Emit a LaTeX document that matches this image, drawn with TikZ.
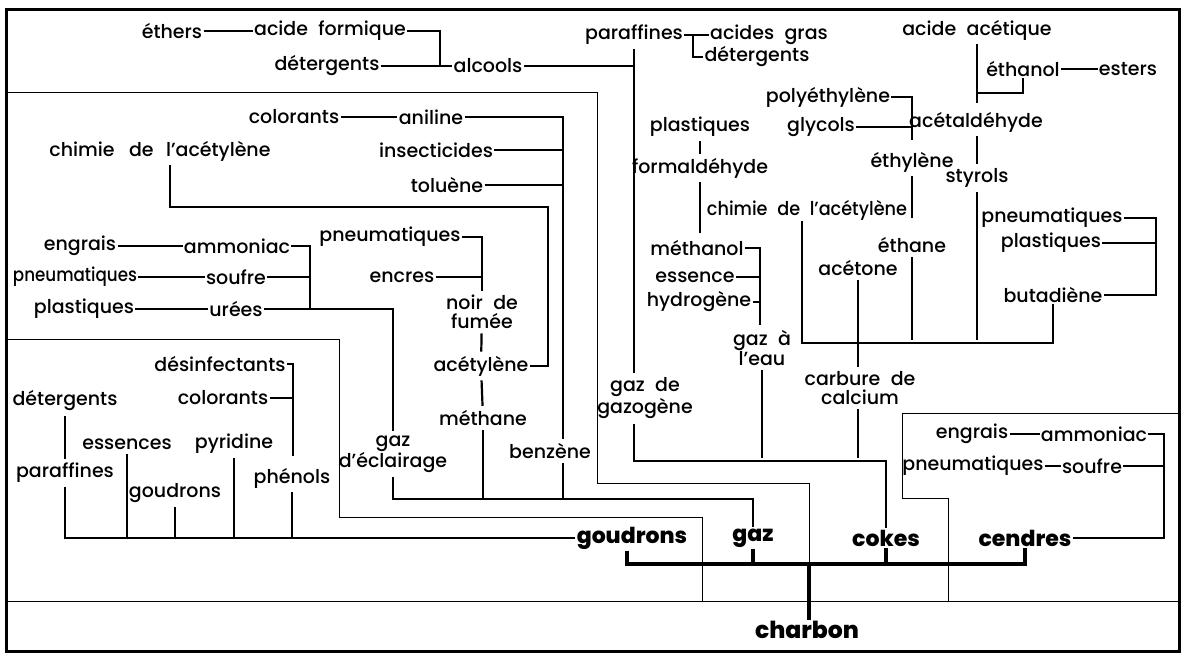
\documentclass[tikz,border=0pt]{standalone}
\usepackage{fontspec}
\setmainfont{Poppins}
\IfFontExistsTF{Poppins Medium}
  {\newfontfamily\lblfam{Poppins Medium}[WordSpace=2.1]}
  {\newfontfamily\lblfam{Poppins}[WordSpace=2.1]}
\IfFontExistsTF{Poppins ExtraBold}
  {\newfontfamily\bigfam{Poppins ExtraBold}}
  {\newfontfamily\bigfam{Poppins}[UprightFont=*-Bold]}
\begin{document}
\begin{tikzpicture}[x=1pt,y=-1pt,
  lbl/.style={inner sep=1.2pt, font={\lblfam\fontsize{19}{19}\selectfont}, align=center},
  big/.style={inner sep=1.2pt, font={\bigfam\fontsize{22}{22}\selectfont}},
  con/.style={line width=2.2pt},
  vcon/.style={line width=2.2pt, shorten <=3pt, shorten >=3pt},
  bus/.style={line width=4pt},
  reg/.style={line width=0.8pt},
]
\useasboundingbox (0,0) rectangle (1184,656);
% frame and regions
\draw[line width=3pt] (6,9) rectangle (1179,651);
\draw[reg] (7,92) -- (597,92) -- (597,483) -- (809,483) -- (809,601);
\draw[reg] (7,339) -- (339,339) -- (339,517) -- (702,517) -- (702,601);
\draw[reg] (1178,413) -- (902,413) -- (902,498) -- (948,498) -- (948,601);
\draw[reg] (7,601) -- (1178,601);

% ---- nodes: top area
\node[lbl] (eth) at (172,31) {éthers};
\node[lbl] (acf) at (330,31) {acide formique};
\node[lbl] (det1) at (327,66) {détergents};
\node[lbl] (alc) at (488,66) {alcools};
\node[lbl] (par1) at (634,35) {paraffines};
\node[lbl] (acg) at (769,35) {acides gras};
\node[lbl] (det2) at (757,57) {détergents};
\node[lbl] (aca) at (977,30) {acide acétique};
\node[lbl] (ethol) at (1023,69) {éthanol};
\node[lbl] (est) at (1128,69) {esters};
\node[lbl] (poly) at (828,97) {polyéthylène};
\node[lbl] (gly) at (821,127) {glycols};
\node[lbl] (acald) at (976,122) {acétaldéhyde};
\node[lbl] (ethyl) at (912,162) {éthylène};
\node[lbl] (sty) at (977,178) {styrols};
\node[lbl] (plast2) at (700,127) {plastiques};
\node[lbl] (form) at (700,168) {formaldéhyde};
\node[lbl] (chim2) at (807,210) {\scalebox{0.93}[1]{chimie de l’acétylène}};
\node[lbl] (ethane) at (912,245) {éthane};
\node[lbl] (acet) at (858,268) {acétone};
\node[lbl] (pneu3) at (1052,218) {pneumatiques};
\node[lbl] (plast3) at (1051,243) {plastiques};
\node[lbl] (buta) at (1053,295) {butadiène};
\node[lbl] (meth) at (697,248) {méthanol};
\node[lbl] (ess) at (695,277) {essence};
\node[lbl] (hyd) at (699,302) {hydrogène};
\node[lbl] (gazeau) at (762,348) {gaz à\\l’eau};
\node[lbl] (gazog) at (645,398) {gaz de\\gazogène};
\node[lbl] (carb) at (860,388) {carbure de\\calcium};
% ---- nodes: left area
\node[lbl] (col1) at (294,117) {colorants};
\node[lbl] (anil) at (431,117) {aniline};
\node[lbl] (insect) at (436,150) {insecticides};
\node[lbl] (tol) at (447,185) {toluène};
\node[lbl] (chim1) at (160,151) {chimie\hspace{4pt} de\hspace{2pt} l’acétylène};
\node[lbl] (pneu2) at (390,237) {pneumatiques};
\node[lbl] (encr) at (402,277) {encres};
\node[lbl] (noir) at (482,312) {noir de\\fumée};
\node[lbl] (acetyl) at (481,366) {acétylène};
\node[lbl] (methane) at (483,418) {méthane};
\node[lbl] (benz) at (550,451) {benzène};
\node[lbl] (gazecl) at (393,454) {gaz\\d’éclairage};
\node[lbl] (engr1) at (80,246) {engrais};
\node[lbl] (amm1) at (237,246) {ammoniac};
\node[lbl] (pneu1) at (75,277) {\scalebox{0.88}[1]{pneumatiques}};
\node[lbl] (souf1) at (236,277) {soufre};
\node[lbl] (plast1) at (84,309) {plastiques};
\node[lbl] (uree) at (236,309) {urées};
% ---- nodes: goudrons area
\node[lbl] (desinf) at (220,364) {désinfectants};
\node[lbl] (col2) at (223,398) {colorants};
\node[lbl] (det3) at (65,401) {détergents};
\node[lbl] (essc) at (127,444) {essences};
\node[lbl] (pyr) at (234,444) {pyridine};
\node[lbl] (par2) at (65,473) {paraffines};
\node[lbl] (goud2) at (175,493) {goudrons};
\node[lbl] (phen) at (292,478) {phénols};
% ---- nodes: cendres area
\node[lbl] (engr2) at (972,434) {engrais};
\node[lbl] (amm2) at (1094,434) {ammoniac};
\node[lbl] (pneu4) at (973,466) {pneumatiques};
\node[lbl] (souf2) at (1092,466) {soufre};
% ---- main products
\node[big] (goud) at (632,538) {goudrons};
\node[big] (gaz) at (753,538) {gaz};
\node[big] (cokes) at (886,538) {cokes};
\node[big] (cend) at (1025,538) {cendres};
\node[big, font={\bigfam\fontsize{23.5}{24}\selectfont}] (charb) at (807,630) {charbon};

% ---- junction coordinates
\coordinate (j1) at (440,66);
\coordinate (j2) at (634,66);
\coordinate (j3) at (693,35);
\coordinate (j4) at (977,93);
\coordinate (j5) at (912,140);
\coordinate (j6) at (1156,295);
\coordinate (j7) at (760,325);
\coordinate (j8) at (563,117);
\coordinate (j9) at (548,207);
\coordinate (j10) at (170,207);
\coordinate (j11) at (310,309);
\coordinate (j12) at (293,456);
\coordinate (j13) at (1164,434);
\coordinate (c802) at (802,343);
\coordinate (bC) at (0,343);
\coordinate (bG) at (0,461);
\coordinate (bGz) at (0,499);
\coordinate (bT) at (0,539);
\coordinate (bM) at (0,564);

% ---- connectors: top
\draw[con] (eth) -- (acf);
\draw[con] (acf) -| (j1) -- (alc);
\draw[con] (det1) -- (j1);
\draw[con] (alc) -- (j2);
\draw[vcon] (par1) -- (par1 |- gazog.north);
\draw[con] (par1) -- (acg);
\draw[con] (j3) |- (det2);
\draw[vcon, shorten >=8pt] (aca) -- (aca |- acald.north);
\draw[con] (j4) -| (ethol);
\draw[con] (ethol) -- (est);
\draw[con] (poly) -| (j5);
\draw[con] (gly) -- (gly -| j5);
\draw[vcon] (acald.south -| aca) -- (sty.north -| aca);
\draw[vcon] (plast2) -- (form);
\draw[vcon, shorten >=6pt] (form) -- (form |- meth.north);
\draw[vcon] (ethyl) -- (ethyl |- chim2.south);
\draw[con] (chim2.south -| c802) -- (c802) -- (c802 -| buta) -- (buta);
\draw[vcon] (acet) -- (acet |- carb.north);
\draw[vcon] (ethane) -- (ethane |- bC);
\draw[vcon] (sty) -- (sty |- bC);
\draw[con] (pneu3) -| (j6) -- (buta);
\draw[con] (plast3) -- (plast3 -| j6);
\draw[con] (meth) -| (j7);
\draw[con] (ess) -- (ess -| j7);
\draw[con] (hyd) -- (hyd -| j7);
\draw[vcon] (gazeau) -- (gazeau |- bG);
\draw[vcon] (carb.south -| acet) -- (acet |- bG);
\draw[con, shorten <=4pt] (gazog.south -| par1) -- (par1 |- bG) -| (cokes);
% ---- connectors: left
\draw[con] (col1) -- (anil);
\draw[con, shorten >=3pt] (anil) -| (benz.north -| j8);
\draw[con] (insect) -- (insect -| j8);
\draw[con] (tol) -- (tol -| j8);
\draw[con, shorten <=3pt] (benz.south -| j8) -- (j8 |- bGz);
\draw[con, shorten <=3pt] (chim1.south -| j10) -- (j10) -| (j9 |- acetyl) -- (acetyl);
\draw[con, shorten >=3pt] (pneu2) -| (noir);
\draw[con] (encr) -- (encr -| noir);
\draw[vcon] (noir) -- (acetyl);
\draw[vcon] (acetyl) -- (methane);
\draw[con, shorten <=3pt] (methane) -- (methane |- bGz);
\draw[con, shorten <=3pt] (gazecl) -- (gazecl |- bGz) -| (gaz);
\draw[con] (engr1) -- (amm1);
\draw[con] (pneu1) -- (souf1);
\draw[con] (plast1) -- (uree);
\draw[con] (amm1) -| (j11);
\draw[con] (souf1) -- (souf1 -| j11);
\draw[con, shorten >=3pt] (uree) -| (gazecl);
% ---- connectors: goudrons
\draw[con] (desinf) -| (j12);
\draw[con] (col2) -- (col2 -| j12);
\draw[con, shorten <=3pt] (phen) -- (phen |- bT);
\draw[vcon] (det3) -- (par2);
\draw[con, line width=2.6pt, shorten <=3pt] (par2) |- (goud);
\draw[con, shorten <=3pt] (essc) -- (essc |- bT);
\draw[con, shorten <=3pt] (goud2) -- (goud2 |- bT);
\draw[con, shorten <=3pt] (pyr) -- (pyr |- bT);
% ---- main bus
\draw[bus] (goud.south -| 627,0) |- (cend |- bM) -- (cend);
\draw[bus] (gaz) -- (gaz |- bM);
\draw[bus] (cokes) -- (cokes |- bM);
\draw[bus] (charb.north -| 809,0) -- (809,564);
% ---- cendres
\draw[con] (engr2) -- (amm2);
\draw[con] (amm2) -| (j13 |- cend) -- (cend);
\draw[con] (pneu4) -- (souf2);
\draw[con] (souf2) -- (souf2 -| j13);
\end{tikzpicture}
\end{document}
